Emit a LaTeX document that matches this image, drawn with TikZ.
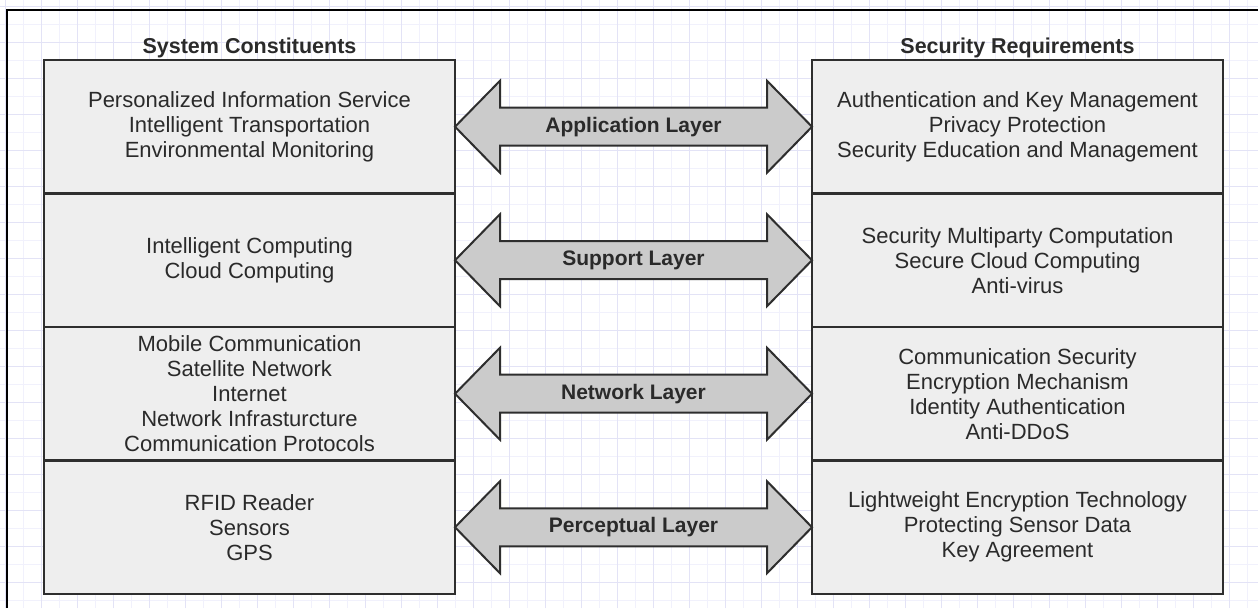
\documentclass[tikz,border=0pt]{standalone}
\usepackage{fontspec}
\setmainfont{Liberation Sans}
\usepackage{tikz}
\usetikzlibrary{positioning,calc}
\definecolor{gridminor}{HTML}{F1F1FC}
\definecolor{gridmajor}{HTML}{E3E3F6}
\definecolor{boxfill}{HTML}{EEEEEE}
\definecolor{arrowfill}{HTML}{CBCBCB}
\definecolor{edge}{HTML}{2E2E2E}
\definecolor{ink}{HTML}{2A2A2A}

\begin{document}
\begin{tikzpicture}[
  x=1pt, y=1pt,
  box/.style={draw=edge, line width=2.5pt, fill=boxfill, outer sep=0pt,
              minimum width=411pt, minimum height=133.5pt, inner sep=0pt,
              align=center, text=ink, font=\fontsize{22}{25}\selectfont},
  header/.style={inner sep=0pt, text=ink, font=\fontsize{21.5}{25}\selectfont\bfseries},
  bigarrow/.style={draw=edge, line width=2pt, fill=arrowfill, line join=miter},
  layer/.style={inner sep=0pt, text=ink, font=\fontsize{21}{25}\selectfont\bfseries},
  node distance=0pt and 357pt
]
  \useasboundingbox (0,0) rectangle (1258,608);

  % Background grid and frame
  \draw[gridminor, line width=0.8pt, step=18pt, shift={(5,8)}] (-5,-8) grid (1253,600);
  \draw[gridmajor, line width=0.8pt, step=36pt, shift={(5,26)}] (-5,-26) grid (1253,582);
  \draw[black, line width=2.5pt] (7,0) -- (7,598) -- (1258,598);

  % System constituents
  \node[box] (sysapp) at (249.5,481.25)
    {Personalized Information Service\\Intelligent Transportation\\Environmental Monitoring};
  \node[box, below=of sysapp] (syssup) {Intelligent Computing\\Cloud Computing};
  \node[box, below=of syssup] (sysnet)
    {Mobile Communication\\Satellite Network\\Internet\\Network Infrasturcture\\Communication Protocols};
  \node[box, below=of sysnet] (sysper) {RFID Reader\\Sensors\\GPS};

  % Security requirements
  \node[box, right=of sysapp] (reqapp)
    {Authentication and Key Management\\Privacy Protection\\Security Education and Management};
  \node[box, right=of syssup] (reqsup)
    {Security Multiparty Computation\\Secure Cloud Computing\\Anti-virus};
  \node[box, right=of sysnet] (reqnet)
    {Communication Security\\Encryption Mechanism\\Identity Authentication\\Anti-DDoS};
  \node[box, right=of sysper] (reqper)
    {Lightweight Encryption Technology\\Protecting Sensor Data\\Key Agreement};

  % Column titles
  \node[header, above=2pt of sysapp] (syshead) {System Constituents};
  \node[header, above=2pt of reqapp] (reqhead) {Security Requirements};

  % Layer arrows
  \foreach \r/\lbl in {app/Application Layer, sup/Support Layer,
                       net/Network Layer, per/Perceptual Layer} {
    \draw[bigarrow] (sys\r.east) -- ++(45,46) -- ++(0,-27)
      -- ($(req\r.west)+(-45,19)$) -- ++(0,27) -- (req\r.west)
      -- ++(-45,-46) -- ++(0,27) -- ($(sys\r.east)+(45,-19)$)
      -- ++(0,-27) -- cycle;
    \node[layer] (lay\r) at ($(sys\r.east)!0.5!(req\r.west)$) {\lbl};
  }
\end{tikzpicture}
\end{document}
